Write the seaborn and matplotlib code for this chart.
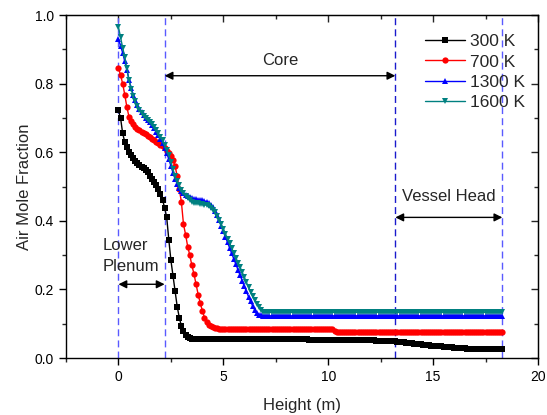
import numpy as np
import pandas as pd
import matplotlib
matplotlib.use('Agg')
import matplotlib.pyplot as plt
import seaborn as sns
from matplotlib.ticker import MultipleLocator

# mesh heights (m): 0.1 m cells from the bottom of the plenum to the top of the head
height = np.round(np.arange(0, 18.35, 0.1), 2)

# air mole fraction
air_300 = [0.722, 0.700, 0.655, 0.630, 0.614, 0.601, 0.592, 0.584, 0.575, 0.569,
           0.563, 0.558, 0.554, 0.549, 0.541, 0.532, 0.523, 0.514, 0.504, 0.494,
           0.479, 0.462, 0.438, 0.410, 0.345, 0.285, 0.240, 0.195, 0.150, 0.118,
           0.093, 0.078, 0.068, 0.061, 0.057, 0.055] + [0.054] * 35 \
    + [0.054] * 20 + [0.053] * 20 + [0.052] * 12 + [0.051] * 8 \
    + [0.050, 0.049, 0.048, 0.047, 0.046, 0.046, 0.045, 0.044, 0.043, 0.043,
       0.042, 0.041, 0.040, 0.040, 0.039, 0.038, 0.037, 0.037, 0.036, 0.036,
       0.035, 0.035, 0.034, 0.034, 0.033, 0.033, 0.032, 0.032, 0.031, 0.030,
       0.030, 0.029, 0.029, 0.028, 0.028, 0.027, 0.027, 0.026, 0.026, 0.026,
       0.026, 0.025, 0.025, 0.025, 0.025, 0.025, 0.025, 0.025, 0.025, 0.025,
       0.025, 0.025, 0.025]

air_700 = [0.845, 0.825, 0.800, 0.768, 0.732, 0.704, 0.690, 0.682, 0.674, 0.668,
           0.664, 0.660, 0.656, 0.652, 0.648, 0.644, 0.640, 0.635, 0.630, 0.626,
           0.622, 0.617, 0.611, 0.605, 0.598, 0.590, 0.577, 0.560, 0.530, 0.492,
           0.455, 0.390, 0.360, 0.325, 0.300, 0.270, 0.245, 0.215, 0.185, 0.160,
           0.138, 0.118, 0.105, 0.097, 0.093, 0.090, 0.088, 0.087] + [0.086] * 23 \
    + [0.086] * 32 + [0.080] + [0.076] * 80

air_1300 = [0.930, 0.910, 0.890, 0.865, 0.840, 0.812, 0.788, 0.768, 0.751, 0.737,
            0.725, 0.716, 0.708, 0.701, 0.694, 0.687, 0.679, 0.670, 0.660, 0.650,
            0.638, 0.626, 0.612, 0.597, 0.580, 0.560, 0.540, 0.522, 0.508, 0.497,
            0.488, 0.481, 0.475, 0.471, 0.468, 0.466, 0.464, 0.463, 0.462, 0.461,
            0.460, 0.458, 0.456, 0.452, 0.447, 0.440, 0.430, 0.417, 0.402, 0.386,
            0.370, 0.353, 0.337, 0.321, 0.305, 0.289, 0.273, 0.257, 0.241, 0.225,
            0.209, 0.194, 0.179, 0.165, 0.152, 0.140, 0.131, 0.126, 0.124, 0.123,
            0.123] + [0.123] * 113

air_1600 = [0.965, 0.935, 0.905, 0.877, 0.845, 0.812, 0.785, 0.765, 0.748, 0.734,
            0.722, 0.713, 0.705, 0.699, 0.693, 0.688, 0.682, 0.674, 0.666, 0.656,
            0.645, 0.635, 0.622, 0.607, 0.592, 0.572, 0.550, 0.530, 0.515, 0.503,
            0.491, 0.481, 0.473, 0.466, 0.460, 0.456, 0.453, 0.452, 0.451, 0.450,
            0.449, 0.447, 0.445, 0.442, 0.438, 0.433, 0.425, 0.415, 0.403, 0.390,
            0.377, 0.362, 0.348, 0.334, 0.320, 0.306, 0.292, 0.278, 0.265, 0.250,
            0.236, 0.221, 0.206, 0.193, 0.180, 0.168, 0.158, 0.148, 0.140, 0.135,
            0.134] + [0.133] * 113

labels = ['300 K', '700 K', '1300 K', '1600 K']
series = [air_300, air_700, air_1300, air_1600]
colors = ['#000000', '#ff0000', '#0000ff', '#008080']
markers = ['s', 'o', '^', 'v']

# region boundaries (m)
plenum_top = 2.2
core_top = 13.2
vessel_top = 18.3

df = pd.concat([pd.DataFrame({'Height': height, 'Air': s, 'Temp': lab})
                for s, lab in zip(series, labels)])

sns.set_style('ticks')
plt.rcParams['font.family'] = ['Liberation Sans', 'DejaVu Sans']

fig = plt.figure(figsize=(5.47, 4.15), dpi=100)
ax = fig.add_axes([0.1207, 0.1373, 0.8628, 0.8265])

for x, c in [(0, '#5a5aff'), (plenum_top, '#5a5aff'), (core_top, '#1a1acc'), (vessel_top, '#5a5aff')]:
    ax.axvline(x, color=c, ls=(0, (5, 3)), lw=1, zorder=1)

for lab, c, m in zip(labels, colors, markers):
    sns.lineplot(data=df[df['Temp'] == lab], x='Height', y='Air', ax=ax, color=c,
                 marker=m, markersize=4.5, markeredgewidth=0, lw=1, label=lab, zorder=3)

arrow = dict(arrowstyle='<|-|>', color='black', lw=1, mutation_scale=12, shrinkA=0, shrinkB=0)
ax.annotate('', xy=(plenum_top, 0.823), xytext=(core_top, 0.823), arrowprops=arrow)
ax.annotate('', xy=(core_top, 0.41), xytext=(vessel_top, 0.41), arrowprops=arrow)
ax.annotate('', xy=(0, 0.215), xytext=(plenum_top, 0.215), arrowprops=arrow)
ax.text(7.7, 0.866, 'Core', ha='center', va='center', fontsize=12)
ax.text(15.75, 0.471, 'Vessel Head', ha='center', va='center', fontsize=12)
ax.text(-0.74, 0.298, 'Lower\nPlenum', ha='left', va='center', fontsize=12, linespacing=1.45)

ax.set_xlim(-2.5, 20)
ax.set_ylim(0, 1.0)
ax.xaxis.set_major_locator(MultipleLocator(5))
ax.xaxis.set_minor_locator(MultipleLocator(2.5))
ax.yaxis.set_major_locator(MultipleLocator(0.2))
ax.yaxis.set_minor_locator(MultipleLocator(0.1))
ax.yaxis.set_major_formatter(matplotlib.ticker.FormatStrFormatter('%.1f'))
ax.tick_params(which='major', direction='out', length=5, width=1, labelsize=10, colors='black')
ax.tick_params(which='minor', direction='out', length=3, width=1)
for sp in ax.spines.values():
    sp.set_linewidth(1)
    sp.set_color('black')

top = ax.secondary_xaxis('top')
top.xaxis.set_major_locator(MultipleLocator(5))
top.xaxis.set_minor_locator(MultipleLocator(2.5))
top.tick_params(which='major', direction='in', length=5, width=1, labeltop=False)
top.tick_params(which='minor', direction='in', length=3, width=1)
right = ax.secondary_yaxis('right')
right.yaxis.set_major_locator(MultipleLocator(0.2))
right.yaxis.set_minor_locator(MultipleLocator(0.1))
right.tick_params(which='major', direction='in', length=5, width=1, labelright=False)
right.tick_params(which='minor', direction='in', length=3, width=1)

ax.set_xlabel('Height (m)', fontsize=12, labelpad=10)
ax.set_ylabel('Air Mole Fraction', fontsize=12, labelpad=2)

ax.legend(loc='upper right', bbox_to_anchor=(0.995, 0.975), frameon=False, fontsize=12.5,
          handlelength=2.3, labelspacing=0.3, handletextpad=0.3, borderaxespad=0.2)

plt.savefig('out.png', dpi=100)
